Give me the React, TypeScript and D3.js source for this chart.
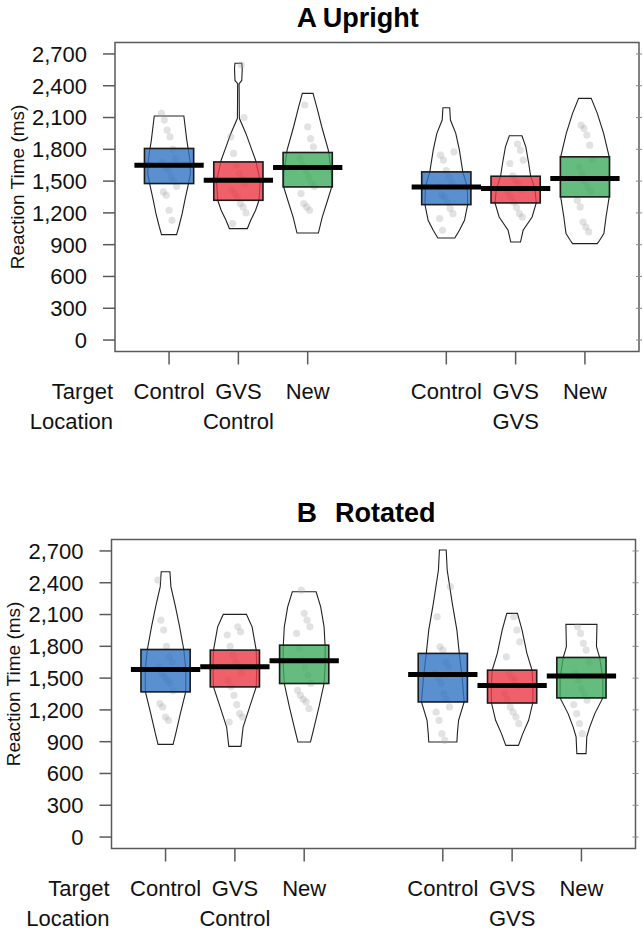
import React from "react";
import * as d3 from "d3";

// ---------- data ----------
const categoryPositions = [1, 2, 3, 5, 6, 7];
const targetLabels = ["Control", "GVS", "New", "Control", "GVS", "New"];
const locationLabels = ["Control", "GVS"];
const locationPositions = [2, 6];
const yTickValues = [0, 300, 600, 900, 1200, 1500, 1800, 2100, 2400, 2700];
const condColors = ["#3274c4", "#ec3845", "#40aa5f", "#3274c4", "#ec3845", "#40aa5f"];

const uprightMeans = [1650, 1508, 1628, 1445, 1430, 1524];
const uprightBandHigh = [1808, 1681, 1770, 1587, 1546, 1729];
const uprightBandLow = [1477, 1319, 1445, 1278, 1294, 1351];

const rotatedMeans = [1581, 1606, 1663, 1534, 1430, 1521];
const rotatedBandHigh = [1770, 1764, 1811, 1733, 1575, 1695];
const rotatedBandLow = [1370, 1417, 1449, 1275, 1265, 1313];

// bean outlines: [reaction time, relative half-width]
const uprightBeans: [number, number][][] = [
  [[2114, 0.61], [1887, 0.73], [1698, 0.86], [1572, 0.88], [1477, 0.8], [1319, 0.65], [1193, 0.54], [1067, 0.4], [995, 0.31]],
  [[2612, 0.14], [2560, 0.16], [2450, 0.14], [2420, 0.03], [2093, 0.04], [1950, 0.31], [1823, 0.51], [1697, 0.71], [1500, 0.9], [1319, 0.85], [1225, 0.71], [1130, 0.51], [1052, 0.37]],
  [[2328, 0.22], [2202, 0.37], [2013, 0.58], [1792, 0.85], [1572, 0.98], [1445, 0.99], [1319, 0.82], [1161, 0.6], [1010, 0.44]],
  [[2192, 0.14], [2076, 0.17], [1950, 0.39], [1792, 0.54], [1587, 0.68], [1445, 0.86], [1278, 0.88], [1130, 0.75], [1036, 0.54], [963, 0.35]],
  [[1928, 0.26], [1823, 0.42], [1666, 0.54], [1546, 0.62], [1420, 0.8], [1294, 0.85], [1161, 0.68], [1036, 0.31], [925, 0.2]],
  [[2281, 0.26], [2139, 0.51], [1950, 0.77], [1729, 1.0], [1500, 1.0], [1351, 1.0], [1161, 0.87], [1004, 0.78], [940, 0.6], [910, 0.51]],
];

const rotatedBeans: [number, number][][] = [
  [[2504, 0.18], [2363, 0.22], [2173, 0.41], [1984, 0.58], [1770, 0.75], [1575, 0.84], [1370, 0.83], [1165, 0.61], [976, 0.42], [875, 0.31]],
  [[2101, 0.48], [1984, 0.71], [1764, 0.88], [1600, 0.9], [1417, 0.88], [1228, 0.61], [1038, 0.34], [856, 0.25]],
  [[2315, 0.49], [2173, 0.68], [1984, 0.82], [1811, 0.86], [1650, 0.87], [1449, 0.82], [1228, 0.61], [1038, 0.41], [897, 0.26]],
  [[2709, 0.14], [2520, 0.18], [2205, 0.39], [1953, 0.58], [1733, 0.68], [1500, 0.8], [1275, 0.88], [1102, 0.65], [976, 0.6], [897, 0.58]],
  [[2111, 0.22], [1953, 0.41], [1733, 0.61], [1575, 0.82], [1420, 0.86], [1265, 0.85], [1102, 0.68], [976, 0.44], [865, 0.26]],
  [[2007, 0.64], [1800, 0.62], [1764, 0.66], [1695, 0.75], [1500, 0.88], [1313, 0.88], [1165, 0.55], [1038, 0.34], [945, 0.22], [787, 0.19]],
];

const uprightPoints = [
  [2139, 2076, 1981, 1918, 1800, 1714, 1680, 1634, 1600, 1540, 1500, 1450, 1398, 1367, 1225, 1130],
  [2596, 2100, 1918, 1761, 1650, 1572, 1520, 1477, 1420, 1383, 1350, 1288, 1256, 1200, 1099],
  [2218, 2013, 1900, 1823, 1714, 1650, 1600, 1540, 1480, 1450, 1383, 1288, 1256, 1225],
  [1776, 1745, 1698, 1600, 1540, 1480, 1445, 1370, 1350, 1300, 1241, 1193, 1146, 1036],
  [1850, 1792, 1698, 1666, 1550, 1500, 1477, 1420, 1398, 1350, 1300, 1250, 1193, 1161],
  [2028, 1997, 1934, 1839, 1700, 1634, 1572, 1500, 1445, 1400, 1319, 1256, 1114, 1067, 1020],
];

const rotatedPoints = [
  [2426, 2047, 1953, 1800, 1700, 1650, 1606, 1543, 1511, 1480, 1449, 1380, 1260, 1228, 1133, 1102],
  [1984, 1937, 1906, 1800, 1716, 1650, 1606, 1550, 1480, 1420, 1338, 1250, 1165, 1133, 1086],
  [2331, 2111, 2047, 1984, 1922, 1780, 1669, 1600, 1527, 1450, 1385, 1338, 1300, 1275, 1212],
  [2363, 2079, 1795, 1764, 1650, 1606, 1550, 1500, 1449, 1354, 1300, 1228, 1180, 1102, 976, 913],
  [2079, 1953, 1842, 1700, 1543, 1500, 1480, 1420, 1354, 1300, 1228, 1180, 1133, 1071],
  [1984, 1922, 1827, 1764, 1650, 1543, 1480, 1402, 1350, 1291, 1250, 1165, 1071, 976],
];

// ---------- layout ----------
const W = 644;
const H = 943;
const FONT = "'Liberation Sans', Arial, Helvetica, sans-serif";
const frame = { left: 115, right: 639, top: 42.5, bottom: 351.5 };
const beanHalf = 0.35; // in category units
const barHalf = 0.355;
const meanHalf = 0.5;

type PanelProps = {
  letter: string;
  word: string;
  wordX: number;
  titleY: number;
  dx: number;
  dy: number;
  means: number[];
  hi: number[];
  lo: number[];
  beans: [number, number][][];
  points: number[][];
};

function Panel(p: PanelProps) {
  const x = d3.scaleLinear().domain([0.22, 7.78]).range([frame.left, frame.right]);
  const y = d3.scaleLinear().domain([-108, 2808]).range([frame.bottom, frame.top]);
  const unit = x(1) - x(0);
  const fmt = d3.format(",");

  return (
    <g>
      <text x={296.7} y={p.titleY} fontFamily={FONT} fontWeight="bold" fontSize={28} fill="#000">
        {p.letter}
      </text>
      <text x={p.wordX} y={p.titleY} fontFamily={FONT} fontWeight="bold" fontSize={27} fill="#000">
        {p.word}
      </text>
      <g transform={`translate(${p.dx},${p.dy})`}>
        {categoryPositions.map((pos, i) => {
          const cx = x(pos);
          const area = d3
            .area<[number, number]>()
            .x0((d) => cx - d[1] * beanHalf * unit)
            .x1((d) => cx + d[1] * beanHalf * unit)
            .y((d) => y(d[0]))
            .curve(d3.curveLinear);
          return (
            <g key={i}>
              <path d={area(p.beans[i]) || ""} fill="none" stroke="#222" strokeWidth={1.1} />
              {p.points[i].map((v, j) => {
                const jit = ((((j * 37 + i * 11) % 17) / 16) - 0.5) * 0.22 * unit;
                return <circle key={j} cx={cx + jit} cy={y(v)} r={3.6} fill="#a0a0a0" fillOpacity={0.3} />;
              })}
              <rect
                x={cx - barHalf * unit}
                y={y(p.hi[i])}
                width={2 * barHalf * unit}
                height={y(p.lo[i]) - y(p.hi[i])}
                fill={condColors[i]}
                fillOpacity={0.8}
                stroke="#1a1a1a"
                strokeWidth={1.6}
              />
              <line
                x1={cx - meanHalf * unit}
                x2={cx + meanHalf * unit}
                y1={y(p.means[i])}
                y2={y(p.means[i])}
                stroke="#000"
                strokeWidth={5}
              />
            </g>
          );
        })}
        <rect
          x={frame.left}
          y={frame.top}
          width={frame.right - frame.left}
          height={frame.bottom - frame.top}
          fill="none"
          stroke="#5a5a5a"
          strokeWidth={1.5}
        />
        {yTickValues.map((v) => (
          <g key={v}>
            <line x1={frame.left - 12} x2={frame.left} y1={y(v)} y2={y(v)} stroke="#5a5a5a" strokeWidth={1.5} />
            <line x1={frame.right - 3} x2={frame.right + 3} y1={y(v)} y2={y(v)} stroke="#8a8a8a" strokeWidth={1} />
            <text
              x={frame.left - 28}
              y={y(v)}
              dy="0.36em"
              textAnchor="end"
              fontFamily={FONT}
              fontSize={22}
              fill="#111"
            >
              {fmt(v)}
            </text>
          </g>
        ))}
        <text
          transform={`translate(17,${(y(0) + y(2700)) / 2 - 10}) rotate(-90)`}
          textAnchor="middle"
          dy="0.35em"
          fontFamily={FONT}
          fontSize={19}
          fill="#111"
        >
          Reaction Time (ms)
        </text>
        {categoryPositions.map((pos, i) => (
          <g key={i}>
            <line x1={x(pos)} x2={x(pos)} y1={frame.bottom} y2={frame.bottom + 13} stroke="#5a5a5a" strokeWidth={1.5} />
            <text x={x(pos)} y={frame.bottom + 47.5} textAnchor="middle" fontFamily={FONT} fontSize={22} fill="#111">
              {targetLabels[i]}
            </text>
          </g>
        ))}
        <text x={frame.left - 2} y={frame.bottom + 47.5} textAnchor="end" fontFamily={FONT} fontSize={22} fill="#111">
          Target
        </text>
        <text x={frame.left - 2} y={frame.bottom + 77.5} textAnchor="end" fontFamily={FONT} fontSize={22} fill="#111">
          Location
        </text>
        {locationPositions.map((pos, i) => (
          <text key={i} x={x(pos)} y={frame.bottom + 77.5} textAnchor="middle" fontFamily={FONT} fontSize={22} fill="#111">
            {locationLabels[i]}
          </text>
        ))}
      </g>
    </g>
  );
}

export default function App() {
  return (
    <div style={{ position: "absolute", left: 0, top: 0, width: W, height: H, background: "#fff" }}>
      <svg width={W} height={H} viewBox={`0 0 ${W} ${H}`} style={{ display: "block" }}>
        <rect width={W} height={H} fill="#fff" />
        <Panel
          letter="A"
          word="Upright"
          wordX={322.7}
          titleY={27.3}
          dx={0}
          dy={0}
          means={uprightMeans}
          hi={uprightBandHigh}
          lo={uprightBandLow}
          beans={uprightBeans}
          points={uprightPoints}
        />
        <Panel
          letter="B"
          word="Rotated"
          wordX={335}
          titleY={522.3}
          dx={-3.5}
          dy={497}
          means={rotatedMeans}
          hi={rotatedBandHigh}
          lo={rotatedBandLow}
          beans={rotatedBeans}
          points={rotatedPoints}
        />
      </svg>
    </div>
  );
}
